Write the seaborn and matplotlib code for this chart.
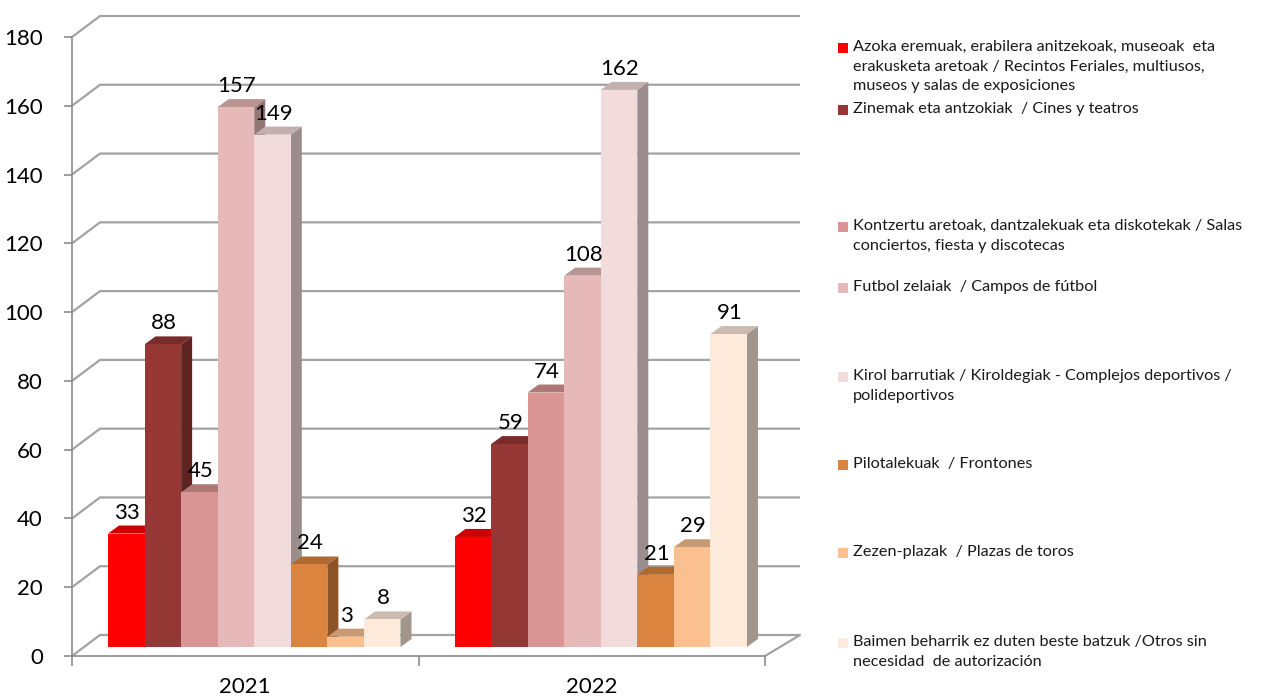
import numpy as np
import pandas as pd
import matplotlib
matplotlib.use("Agg")
import matplotlib.pyplot as plt
import seaborn as sns
from matplotlib.patches import Polygon, Rectangle
from matplotlib.colors import to_rgb

# ---------------- data ----------------
years = ["2021", "2022"]
categories = [
    "Azoka eremuak, erabilera anitzekoak, museoak  eta\nerakusketa aretoak / Recintos Feriales, multiusos,\nmuseos y salas de exposiciones",
    "Zinemak eta antzokiak  / Cines y teatros",
    "Kontzertu aretoak, dantzalekuak eta diskotekak / Salas\nconciertos, fiesta y discotecas",
    "Futbol zelaiak  / Campos de fútbol",
    "Kirol barrutiak / Kiroldegiak - Complejos deportivos /\npolideportivos",
    "Pilotalekuak  / Frontones",
    "Zezen-plazak  / Plazas de toros",
    "Baimen beharrik ez duten beste batzuk /Otros sin\nnecesidad  de autorización",
]
values_2021 = [33, 88, 45, 157, 149, 24, 3, 8]
values_2022 = [32, 59, 74, 108, 162, 21, 29, 91]
colors = ["#FF0000", "#953735", "#D99694", "#E6B9B8",
          "#F2DCDB", "#DB843F", "#FAC090", "#FDEADA"]
y_ticks = [0, 20, 40, 60, 80, 100, 120, 140, 160, 180]

# ---------------- layout ----------------
W, H = 1268, 698
sns.set_theme(style="white")
plt.rcParams["font.family"] = ["Lato", "DejaVu Sans"]

fig = plt.figure(figsize=(W / 100, H / 100), dpi=100)
ax_l, ax_r, ax_b, ax_t = 72, 765, 656, 37
ax = fig.add_axes([ax_l / W, (H - ax_b) / H, (ax_r - ax_l) / W, (ax_b - ax_t) / H])

df = pd.DataFrame({
    "year": np.repeat(years, len(categories)),
    "category": categories * 2,
    "value": values_2021 + values_2022,
})

sns.barplot(data=df, x="year", y="value", hue="category", hue_order=categories,
            palette=colors, width=0.844, dodge=True, legend=False,
            saturation=1, linewidth=0, errorbar=None, ax=ax)

ax.set_xlim(-0.5, 1.5)
ax.set_ylim(0, 180)
sx = (ax_r - ax_l) / 2.0      # px per x unit
sy = (ax_b - ax_t) / 180.0    # px per y unit

# bar plane offset and depth (pixels)
off_x, off_y = 9 / sx, 9 / sy
dep_x, dep_y = 11 / sx, 8 / sy
back_x, back_y = 28 / sx, 21 / sy
back_end = -0.5 + (800 - ax_l) / sx

grid_col = "#A3A3A3"
# back wall gridlines
for v in y_ticks:
    ax.plot([-0.5, -0.5 + back_x, back_end], [v, v + back_y, v + back_y],
            color=grid_col, lw=1.6, clip_on=False, zorder=0.5, solid_capstyle="butt")
# floor right edge
ax.plot([1.5, back_end], [0, back_y], color=grid_col, lw=1.6, clip_on=False, zorder=0.5)


def shade(c, f):
    r, g, b = to_rgb(c)
    return (r * f, g * f, b * f)


patches = sorted(list(ax.patches), key=lambda p: p.get_x())
z = 2.0
for p in patches:
    h = p.get_height()
    x0 = p.get_x() + off_x
    w = p.get_width()
    x1 = x0 + w
    y0 = off_y
    y1 = off_y + h
    p.set_x(x0)
    p.set_y(y0)
    fc = p.get_facecolor()[:3]
    side = Polygon([(x1, y0), (x1 + dep_x, y0 + dep_y), (x1 + dep_x, y1 + dep_y), (x1, y1)],
                   closed=True, facecolor=shade(fc, 0.64), edgecolor="none",
                   zorder=z, clip_on=False)
    top = Polygon([(x0, y1), (x1, y1), (x1 + dep_x, y1 + dep_y), (x0 + dep_x, y1 + dep_y)],
                  closed=True, facecolor=shade(fc, 0.8), edgecolor="none",
                  zorder=z + 0.01, clip_on=False)
    ax.add_patch(side)
    ax.add_patch(top)
    p.set_zorder(z + 0.02)
    p.set_clip_on(False)
    ax.text(x0 + w / 2 + 1 / sx, y1 + dep_y + 3 / sy, f"{int(round(h))}",
            ha="center", va="bottom", fontsize=16, color="black", zorder=10)
    z += 0.1

# axes styling
for s in ["top", "right"]:
    ax.spines[s].set_visible(False)
for s in ["left", "bottom"]:
    ax.spines[s].set_color("#8C8C8C")
    ax.spines[s].set_linewidth(1.2)
ax.set_yticks(y_ticks)
ax.set_yticklabels([str(v) for v in y_ticks])
ax.tick_params(axis="y", left=True, length=6, width=1.2, color="#8C8C8C",
               pad=15, labelsize=16, labelcolor="black")
ax.set_xticks([-0.5, 0.5, 1.5], minor=True)
ax.tick_params(axis="x", which="minor", bottom=True, length=7, width=1.2, color="#8C8C8C")
ax.tick_params(axis="x", which="major", bottom=False, length=0, pad=15,
               labelsize=16, labelcolor="black")
ax.set_xlabel("")
ax.set_ylabel("")
ax.grid(False)
ax.set_facecolor("none")

# legend
leg_y = [48, 110, 227, 288, 377, 465, 553, 643]
for cat, col, yc in zip(categories, colors, leg_y):
    fig.add_artist(Rectangle((838 / W, (H - yc - 5) / H), 10 / W, 10 / H,
                             transform=fig.transFigure, facecolor=col, edgecolor="none"))
    fig.text(853 / W, (H - yc + 8) / H, cat, ha="left", va="top",
             fontsize=11.7, color="#1a1a1a", linespacing=1.52)

fig.savefig("out.png", dpi=100)
